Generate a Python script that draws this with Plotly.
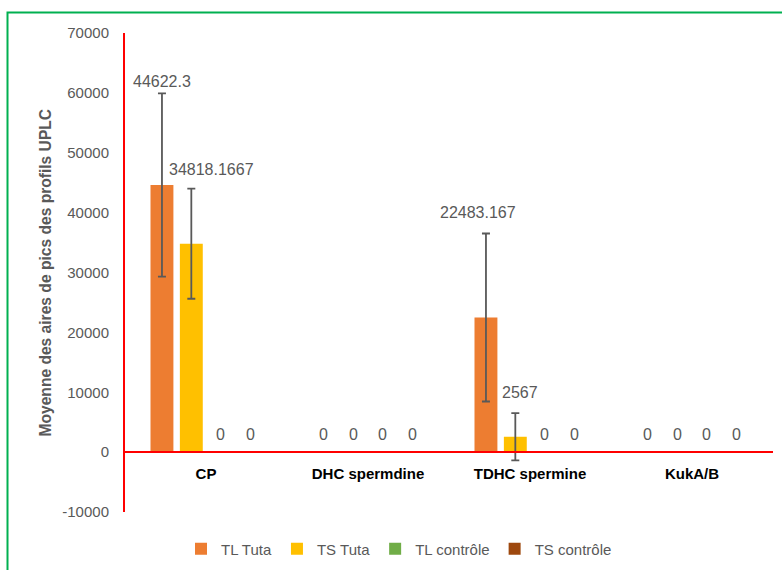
import plotly.graph_objects as go

categories = ["CP", "DHC spermdine", "TDHC spermine", "KukA/B"]
series_names = ["TL Tuta", "TS Tuta", "TL contrôle", "TS contrôle"]
tl_tuta = [44622.3, 0, 22483.167, 0]
ts_tuta = [34818.1667, 0, 2567, 0]
tl_controle = [0, 0, 0, 0]
ts_controle = [0, 0, 0, 0]
tl_tuta_err = [15300, None, 14030, None]
ts_tuta_err = [9200, None, 3950, None]
tl_controle_err = [None, None, None, None]
ts_controle_err = [None, None, None, None]
label_text = {
    "TL Tuta": ["44622.3", "0", "22483.167", "0"],
    "TS Tuta": ["34818.1667", "0", "2567", "0"],
    "TL contrôle": ["0", "0", "0", "0"],
    "TS contrôle": ["0", "0", "0", "0"],
}
y_ticks = [-10000, 0, 10000, 20000, 30000, 40000, 50000, 60000, 70000]
y_tick_labels = ["-10000", "0", "10000", "20000", "30000", "40000", "50000", "60000", "70000"]

colors = ["#ED7D31", "#FFC000", "#70AD47", "#9E480E"]
values = [tl_tuta, ts_tuta, tl_controle, ts_controle]
errors = [tl_tuta_err, ts_tuta_err, tl_controle_err, ts_controle_err]

FONT = "Liberation Sans"
GRAY = "#595959"
BARGAP = 0.275

fig = go.Figure()
for name, vals, errs, col in zip(series_names, values, errors, colors):
    fig.add_trace(go.Bar(
        name=name, x=categories, y=vals,
        marker=dict(color=col, line=dict(width=0)),
        error_y=dict(type="data", array=errs, visible=True, color=GRAY, thickness=1.8, width=4),
    ))

# label placement (pixel shifts relative to bar / error-bar top)
shifts = {
    ("TL Tuta", 0): (0, 1), ("TS Tuta", 0): (20, 9),
    ("TL Tuta", 2): (-8, 11), ("TS Tuta", 2): (5, 10),
}
n = len(series_names)
slot = (1 - BARGAP) / n
annotations = []
for si, (name, vals, errs) in enumerate(zip(series_names, values, errors)):
    off = (si - (n - 1) / 2) * slot
    for ci, v in enumerate(vals):
        top = v + (errs[ci] or 0)
        xs, ys = shifts.get((name, ci), (0, 7))
        annotations.append(dict(
            x=ci + off, y=top, xref="x", yref="y", text=label_text[name][ci],
            showarrow=False, yanchor="bottom", xanchor="center",
            xshift=xs, yshift=ys, font=dict(family=FONT, size=16, color=GRAY)))

annotations.append(dict(
    x=(45 - 125) / 648, y=0.5, xref="paper", yref="paper",
    text="<b>Moyenne des aires de pics des profils UPLC</b>", textangle=-90,
    showarrow=False, xanchor="center", yanchor="middle",
    font=dict(family=FONT, size=15.6, color=GRAY)))

fig.update_layout(
    width=782, height=570,
    margin=dict(l=125, r=9, t=33, b=58, autoexpand=False),
    paper_bgcolor="white", plot_bgcolor="white",
    barmode="group", bargap=BARGAP, bargroupgap=0.22,
    font=dict(family=FONT, size=15, color=GRAY),
    showlegend=True,
    legend=dict(orientation="h", x=(399 - 125) / 648, xanchor="center",
                y=-(37) / 479, yanchor="middle",
                font=dict(family=FONT, size=15, color=GRAY),
                itemwidth=30, tracegroupgap=0),
    annotations=annotations,
    shapes=[dict(type="rect", xref="paper", yref="paper",
                 x0=(7.5 - 125) / 648, x1=(795 - 125) / 648,
                 y0=-(590 - 512) / 479, y1=(512 - 12.5) / 479,
                 line=dict(color="#00B050", width=2), fillcolor="rgba(0,0,0,0)",
                 layer="below")],
    yaxis=dict(range=[-10000, 70000], tickvals=y_ticks, ticktext=y_tick_labels,
               showgrid=False, zeroline=False,
               showline=True, linecolor="#FF0000", linewidth=2, ticks="",
               ticklabelstandoff=11, tickfont=dict(family=FONT, size=15, color=GRAY),
               domain=[0, 1]),
    xaxis=dict(showgrid=False, zeroline=False, showline=True, linecolor="#FF0000",
               linewidth=2, ticks="", anchor="free", position=0.125,
               ticklabelstandoff=8,
               tickfont=dict(family=FONT, size=15, color="#000000", weight="bold"),
               range=[-0.5, 3.5]),
)

fig.write_html("out.html", config={"displayModeBar": False},
               post_script="document.body.style.margin='0';document.body.style.overflow='hidden';")
